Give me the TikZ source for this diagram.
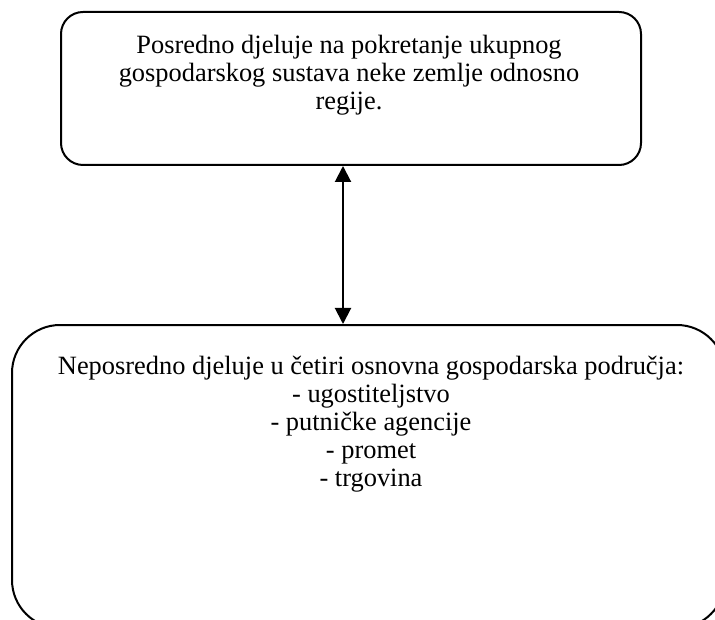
\documentclass[tikz,border=0pt]{standalone}
\usepackage{fontspec}
\setmainfont{Liberation Serif}
\usetikzlibrary{arrows.meta}
\tikzset{
  box/.style={draw=black, line width=1pt, rectangle, inner sep=0pt},
  txt/.style={align=center, inner sep=0pt, font=\fontsize{13.2pt}{14pt}\selectfont},
  link/.style={line width=1pt, {Triangle[length=8pt,width=8pt]}-{Triangle[length=8pt,width=8pt]}}
}
\begin{document}
\begin{tikzpicture}[x=0.5pt,y=-0.5pt]
\useasboundingbox (0,0) rectangle (715,619);
\clip (0,0) rectangle (715,619);
\node[box, rounded corners=11pt, minimum width=290pt, minimum height=76.5pt] (top) at (351,88.5) {};
\node[box, rounded corners=24pt, minimum width=356.5pt, minimum height=151.5pt] (bot) at (368.5,476.5) {};
\node[txt] (toptext) at (349,75) {Posredno djeluje na pokretanje ukupnog\\gospodarskog sustava neke zemlje odnosno\\regije.};
\node[txt] (bottext) at (371,424) {Neposredno djeluje u četiri osnovna gospodarska područja:\\- ugostiteljstvo\\- putničke agencije\\- promet\\- trgovina};
\coordinate (ax) at (343,240);
\draw[link] (top.south -| ax) -- (bot.north -| ax);
\end{tikzpicture}
\end{document}
